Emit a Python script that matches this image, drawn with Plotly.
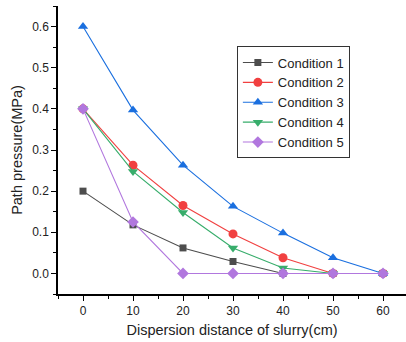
import plotly.graph_objects as go

distance = [0, 10, 20, 30, 40, 50, 60]
cond1 = [0.200, 0.118, 0.062, 0.029, 0.0, 0.0, 0.0]
cond2 = [0.400, 0.263, 0.165, 0.096, 0.038, 0.0, 0.0]
cond3 = [0.600, 0.397, 0.263, 0.163, 0.098, 0.038, 0.0]
cond4 = [0.400, 0.248, 0.148, 0.062, 0.013, 0.0, 0.0]
cond5 = [0.400, 0.125, 0.0, 0.0, 0.0, 0.0, 0.0]

names = ["Condition 1", "Condition 2", "Condition 3", "Condition 4", "Condition 5"]
series = [cond1, cond2, cond3, cond4, cond5]
colors = ["#4d4d4d", "#f14040", "#1a6fdf", "#37ad6b", "#b177de"]
symbols = ["square", "circle", "triangle-up", "triangle-down", "diamond"]
sizes = [7, 9, 9, 9, 9]

fig = go.Figure()
for n, s, c, sym, sz in zip(names, series, colors, symbols, sizes):
    fig.add_trace(go.Scatter(
        x=distance, y=s, name=n, mode="lines+markers",
        line=dict(color=c, width=1.1),
        marker=dict(color=c, symbol=sym, size=sz, line=dict(width=0)),
    ))

axis_common = dict(
    showline=True, linecolor="black", linewidth=1.5, mirror=False,
    ticks="outside", ticklen=5, tickwidth=1.2, tickcolor="black",
    showgrid=False, zeroline=False, automargin=False,
    tickfont=dict(family="Liberation Sans, Arial", size=12, color="#222"),
    title_font=dict(family="Liberation Sans, Arial", size=14.5, color="#222"),
)

fig.update_xaxes(
    range=[-5, 64.6], tickvals=[0, 10, 20, 30, 40, 50, 60],
    minor=dict(ticks="outside", ticklen=3, tickcolor="black", dtick=5, tick0=0),
    title_text="Dispersion distance of slurry(cm)", title_standoff=8,
    **axis_common,
)
fig.update_yaxes(
    range=[-0.05, 0.65], tickvals=[0.0, 0.1, 0.2, 0.3, 0.4, 0.5, 0.6],
    tickformat=".1f",
    minor=dict(ticks="outside", ticklen=3, tickcolor="black", dtick=0.05, tick0=0),
    title_text="Path pressure(MPa)", title_standoff=6,
    **axis_common,
)

fig.update_layout(
    width=406, height=342,
    margin=dict(l=58, r=0, t=6, b=48),
    paper_bgcolor="white", plot_bgcolor="white",
    font=dict(family="Liberation Sans, Arial", color="#222"),
    legend=dict(
        x=0.514, y=0.665, xanchor="left", yanchor="middle",
        bgcolor="white", bordercolor="#333", borderwidth=1,
        font=dict(size=13, color="#222"),
        tracegroupgap=0, itemwidth=30,
    ),
    showlegend=True,
)

fig.write_html(
    "out.html",
    config={"displayModeBar": False},
    post_script="document.body.style.margin='0';document.body.style.padding='0';",
)
